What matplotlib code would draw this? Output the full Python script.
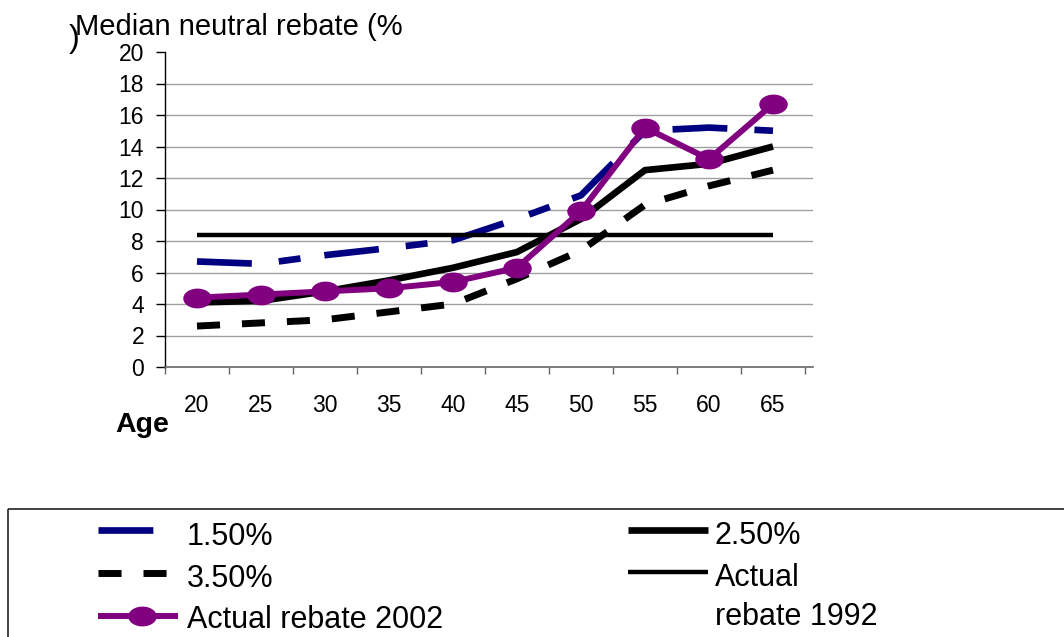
import matplotlib
matplotlib.use("Agg")
import matplotlib.pyplot as plt
from matplotlib.path import Path
from matplotlib.markers import MarkerStyle
from matplotlib.patches import Rectangle
import numpy as np

plt.rcParams['font.family'] = ['Liberation Sans', 'DejaVu Sans']
plt.rcParams['lines.scale_dashes'] = False

# Median neutral rebate (%) by age, for three discount rates plus actual rebates
ages = [20, 25, 30, 35, 40, 45, 50, 55, 60, 65]
rate_150 = [6.7, 6.55, 7.1, 7.55, 8.05, 9.4, 10.9, 15.0, 15.2, 15.0]
rate_250 = [4.1, 4.2, 4.8, 5.5, 6.3, 7.3, 9.4, 12.5, 12.9, 14.0]
rate_350 = [2.6, 2.8, 3.0, 3.5, 4.0, 5.6, 7.4, 10.3, 11.5, 12.5]
actual_1992 = [8.35, 8.35, 8.35, 8.35, 8.35, 8.35, 8.35, 8.35, 8.35, 8.35]
actual_2002 = [4.4, 4.6, 4.8, 5.0, 5.4, 6.3, 9.9, 15.2, 13.2, 16.7]
y_ticks = [0, 2, 4, 6, 8, 10, 12, 14, 16, 18, 20]

# wide elliptical marker for the 2002 series
theta = np.linspace(0, 2 * np.pi, 60)
ellipse = Path(np.column_stack([1.0 * np.cos(theta), 0.68 * np.sin(theta)]), closed=True)
ellipse_marker = MarkerStyle(ellipse)

NAVY = '#000080'
PURPLE = '#800080'

styles = {
    '1.50%': dict(color=NAVY, lw=4.8, dashes=(39.5, 19.5, 15.8, 17.3), dash_capstyle='butt'),
    '2.50%': dict(color='black', lw=4.8, solid_capstyle='butt', solid_joinstyle='round'),
    '3.50%': dict(color='black', lw=5.0, dashes=(16.6, 15.8), dash_capstyle='butt'),
    '1992': dict(color='black', lw=3.2, solid_capstyle='butt'),
    '2002': dict(color=PURPLE, lw=4.3, marker=ellipse_marker, markersize=19.5,
                 markerfacecolor=PURPLE, markeredgecolor=PURPLE,
                 solid_capstyle='butt', solid_joinstyle='round'),
}

W, H = 1064, 637
fig = plt.figure(figsize=(W / 100, H / 100), dpi=100)

left_px, right_px, top_px, bottom_px = 165, 813, 52, 367
ax = fig.add_axes([left_px / W, 1 - bottom_px / H,
                   (right_px - left_px) / W, (bottom_px - top_px) / H])

x = np.arange(len(ages))
ax.plot(x, rate_150, **styles['1.50%'], zorder=3)
ax.plot(x, rate_250, **styles['2.50%'], zorder=3)
ax.plot(x, rate_350, **styles['3.50%'], zorder=3)
ax.plot(x, actual_1992, **styles['1992'], zorder=3)
ax.plot(x, actual_2002, **styles['2002'], zorder=4)

cat_w = 64.0
ax.set_xlim(-0.5, -0.5 + (right_px - left_px) / cat_w)
ax.set_ylim(0, 20)

# y axis
ax.set_yticks(y_ticks)
ax.set_yticklabels([str(v) for v in y_ticks], fontsize=16.5)
ax.tick_params(axis='y', direction='out', length=6.5, width=1, pad=8.6, color='black')
ax.yaxis.grid(True, color='#a0a0a0', lw=1.0)
gl = ax.get_ygridlines()
gl[0].set_visible(False)
gl[-1].set_visible(False)
ax.set_axisbelow(True)

# x axis: labels at category centres, tick marks at category boundaries
ax.set_xticks(x)
ax.set_xticklabels([str(a) for a in ages], fontsize=16.5)
ax.tick_params(axis='x', which='major', length=0, pad=19.5)
ax.set_xticks(np.arange(-0.5, len(ages)), minor=True)
ax.tick_params(axis='x', which='minor', direction='out', length=5, width=1, color='#666666')

for s in ['top', 'right']:
    ax.spines[s].set_visible(False)
ax.spines['left'].set_color('black')
ax.spines['left'].set_linewidth(1)
ax.spines['bottom'].set_color('#666666')
ax.spines['bottom'].set_linewidth(1.2)

# overlay in pixel coordinates for titles and the legend box
ov = fig.add_axes([0, 0, 1, 1], zorder=5)
ov.set_xlim(0, W)
ov.set_ylim(H, 0)
ov.axis('off')

ov.text(75, 35, 'Median neutral rebate (%', fontsize=21, va='baseline', ha='left')
ov.text(69, 47, ')', fontsize=23, va='baseline', ha='left')
ov.text(115, 432, 'Age', fontsize=20.5, fontweight='bold', va='baseline', ha='left')

ov.add_patch(Rectangle((8, 509), 1100, 200, fill=False, edgecolor='#222222', lw=1.2,
                       clip_on=False))

LEG_FS = 22

def legend_entry(x0, y, key, label_lines, text_x, baselines):
    st = dict(styles[key])
    ov.plot([x0, x0 + 80], [y, y], **{k: v for k, v in st.items()
                                     if not k.startswith('marker')})
    if 'marker' in st:
        ov.plot([x0 + 44], [y], marker=st['marker'], markersize=st['markersize'],
                color=st['color'], lw=0)
    for txt, b in zip(label_lines, baselines):
        ov.text(text_x, b, txt, fontsize=LEG_FS, va='baseline', ha='left')

legend_entry(98, 530, '1.50%', ['1.50%'], 187, [545])
legend_entry(98, 573, '3.50%', ['3.50%'], 187, [587])
legend_entry(98, 616, '2002', ['Actual rebate 2002'], 187, [628])
legend_entry(628, 530, '2.50%', ['2.50%'], 715, [544])
legend_entry(628, 572, '1992', ['Actual', 'rebate 1992'], 715, [586, 625])

fig.savefig('out.png', dpi=100)
